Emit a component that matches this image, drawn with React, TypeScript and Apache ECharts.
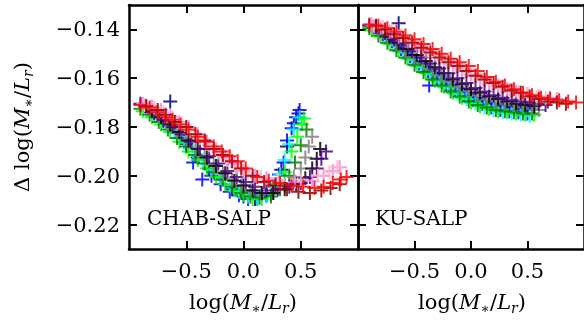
import React, { useEffect, useRef } from "react";
import * as echarts from "echarts";

type P = [number, number];

// ---- Left panel (CHAB-SALP) ----
const L_NAVY: P[] = [[-0.9,-0.1705],[-0.64,-0.1695],[-0.7,-0.176],[-0.6,-0.18],[-0.5,-0.187],[-0.4,-0.1925],[-0.3,-0.197],[-0.2,-0.2015],[-0.1,-0.2055],[0.0,-0.2085],[0.1,-0.2095],[0.2,-0.208],[0.28,-0.2035],[0.33,-0.1975],[0.38,-0.188],[0.44,-0.1785],[0.48,-0.1745]];
const L_BLUE: P[] = [[-0.86,-0.1715],[-0.78,-0.1745],[-0.7,-0.1775],[-0.6,-0.182],[-0.52,-0.186],[-0.44,-0.1945],[-0.36,-0.2015],[-0.28,-0.2],[-0.2,-0.2035],[-0.12,-0.2065],[-0.04,-0.208],[0.04,-0.2095],[0.12,-0.2095],[0.2,-0.208],[0.26,-0.204],[0.31,-0.1995],[0.35,-0.1945],[0.38,-0.1855],[0.42,-0.1805],[0.46,-0.176],[0.49,-0.173]];
const L_CYAN: P[] = [[-0.84,-0.173],[-0.76,-0.1755],[-0.68,-0.179],[-0.6,-0.1825],[-0.52,-0.1865],[-0.44,-0.19],[-0.36,-0.1935],[-0.28,-0.1975],[-0.2,-0.201],[-0.12,-0.204],[-0.04,-0.2065],[0.04,-0.2085],[0.12,-0.2095],[0.2,-0.2085],[0.27,-0.2045],[0.32,-0.1995],[0.36,-0.1935],[0.4,-0.187],[0.44,-0.181],[0.49,-0.176]];
const L_LIME: P[] = [[-0.88,-0.1735],[-0.8,-0.176],[-0.72,-0.179],[-0.64,-0.182],[-0.56,-0.186],[-0.48,-0.19],[-0.4,-0.1935],[-0.32,-0.197],[-0.24,-0.2005],[-0.16,-0.2035],[-0.08,-0.206],[0.0,-0.208],[0.08,-0.2095],[0.16,-0.2095],[0.24,-0.2075],[0.3,-0.2035],[0.36,-0.1985],[0.42,-0.19],[0.47,-0.184],[0.51,-0.179],[0.53,-0.1765]];
const L_GREEN: P[] = [[-0.9,-0.1725],[-0.82,-0.175],[-0.74,-0.178],[-0.66,-0.181],[-0.58,-0.1845],[-0.5,-0.188],[-0.42,-0.1915],[-0.34,-0.195],[-0.26,-0.1985],[-0.18,-0.2015],[-0.1,-0.2045],[-0.02,-0.207],[0.06,-0.2085],[0.14,-0.209],[0.24,-0.2085],[0.32,-0.2055],[0.4,-0.2],[0.45,-0.1945],[0.5,-0.1875],[0.55,-0.181]];
const L_GRAY: P[] = [[-0.82,-0.1725],[-0.74,-0.1755],[-0.66,-0.1785],[-0.58,-0.1815],[-0.5,-0.185],[-0.42,-0.1885],[-0.34,-0.192],[-0.26,-0.1955],[-0.18,-0.199],[-0.1,-0.2015],[-0.02,-0.204],[0.06,-0.206],[0.16,-0.2075],[0.26,-0.207],[0.36,-0.204],[0.44,-0.2005],[0.5,-0.197],[0.54,-0.1925],[0.57,-0.188],[0.6,-0.184]];
const L_BLACK: P[] = [[-0.8,-0.1735],[-0.72,-0.176],[-0.64,-0.179],[-0.56,-0.182],[-0.48,-0.1855],[-0.4,-0.189],[-0.32,-0.1925],[-0.24,-0.196],[-0.16,-0.199],[-0.08,-0.202],[0.0,-0.204],[0.08,-0.206],[0.16,-0.207],[0.26,-0.207],[0.36,-0.2055],[0.46,-0.2035],[0.54,-0.201],[0.6,-0.197],[0.64,-0.193],[0.67,-0.189]];
const L_INDIGO: P[] = [[-0.85,-0.1715],[-0.78,-0.174],[-0.7,-0.177],[-0.62,-0.18],[-0.54,-0.183],[-0.46,-0.186],[-0.38,-0.189],[-0.3,-0.192],[-0.22,-0.195],[-0.14,-0.198],[-0.06,-0.2005],[0.02,-0.2025],[0.1,-0.2045],[0.2,-0.206],[0.3,-0.2055],[0.4,-0.2045],[0.5,-0.203],[0.58,-0.2005],[0.64,-0.197],[0.68,-0.193],[0.72,-0.19]];
const L_VIOLET: P[] = [[-0.88,-0.1705],[-0.8,-0.1715],[-0.72,-0.173],[-0.64,-0.1755],[-0.56,-0.178],[-0.48,-0.18],[-0.4,-0.183],[-0.32,-0.186],[-0.24,-0.189],[-0.16,-0.192],[-0.08,-0.195],[0.0,-0.198],[0.1,-0.2],[0.2,-0.201],[0.3,-0.202],[0.45,-0.2025],[0.6,-0.202],[0.7,-0.2],[0.78,-0.198],[0.84,-0.1965]];
const L_PINK: P[] = [[-0.86,-0.171],[-0.78,-0.172],[-0.7,-0.174],[-0.62,-0.176],[-0.54,-0.1785],[-0.46,-0.1815],[-0.38,-0.1845],[-0.3,-0.1875],[-0.22,-0.1905],[-0.14,-0.1935],[-0.06,-0.1965],[0.04,-0.199],[0.15,-0.2005],[0.3,-0.2015],[0.5,-0.2015],[0.65,-0.2],[0.75,-0.1985],[0.82,-0.1965]];
const L_DARKRED: P[] = [[-0.85,-0.1715],[-0.75,-0.173],[-0.68,-0.175],[-0.6,-0.178],[-0.5,-0.18],[-0.42,-0.183],[-0.34,-0.1855],[-0.26,-0.189],[-0.18,-0.1915],[-0.1,-0.194],[-0.02,-0.197],[0.08,-0.2],[0.18,-0.2025],[0.28,-0.204],[0.38,-0.2055],[0.48,-0.2065],[0.58,-0.207],[0.68,-0.206],[0.76,-0.205],[0.84,-0.2035]];
const L_RED: P[] = [[-0.9,-0.171],[-0.82,-0.172],[-0.75,-0.174],[-0.68,-0.176],[-0.62,-0.177],[-0.55,-0.179],[-0.48,-0.181],[-0.4,-0.184],[-0.33,-0.186],[-0.26,-0.188],[-0.19,-0.19],[-0.12,-0.192],[-0.05,-0.194],[0.02,-0.197],[0.12,-0.2005],[0.22,-0.202],[0.32,-0.203],[0.42,-0.204],[0.52,-0.2045],[0.62,-0.205],[0.7,-0.2045],[0.78,-0.203],[0.85,-0.2015],[0.9,-0.2005]];

// ---- Right panel (KU-SALP) ----
const R_NAVY: P[] = [[-0.9,-0.1385],[-0.64,-0.1375],[-0.76,-0.1415],[-0.68,-0.1445],[-0.6,-0.1475],[-0.52,-0.1505],[-0.44,-0.1535],[-0.36,-0.1565],[-0.28,-0.159],[-0.2,-0.1615],[-0.12,-0.164],[-0.04,-0.166],[0.04,-0.168],[0.12,-0.1695],[0.2,-0.1705],[0.28,-0.1715],[0.36,-0.172],[0.44,-0.1725],[0.5,-0.173]];
const R_BLUE: P[] = [[-0.86,-0.139],[-0.78,-0.142],[-0.7,-0.145],[-0.62,-0.148],[-0.54,-0.151],[-0.46,-0.154],[-0.38,-0.157],[-0.37,-0.163],[-0.3,-0.16],[-0.22,-0.1625],[-0.14,-0.165],[-0.06,-0.167],[0.02,-0.169],[0.1,-0.1705],[0.18,-0.172],[0.26,-0.173],[0.34,-0.1735],[0.42,-0.174],[0.5,-0.1745]];
const R_CYAN: P[] = [[-0.84,-0.14],[-0.76,-0.143],[-0.68,-0.1465],[-0.6,-0.1495],[-0.52,-0.1525],[-0.44,-0.1555],[-0.36,-0.1585],[-0.28,-0.1615],[-0.2,-0.164],[-0.12,-0.1665],[-0.04,-0.1685],[0.04,-0.1705],[0.12,-0.172],[0.2,-0.173],[0.28,-0.174],[0.36,-0.1745],[0.44,-0.175],[0.52,-0.1755]];
const R_LIME: P[] = [[-0.88,-0.1405],[-0.8,-0.143],[-0.72,-0.146],[-0.64,-0.149],[-0.56,-0.152],[-0.48,-0.155],[-0.4,-0.158],[-0.32,-0.161],[-0.24,-0.1635],[-0.16,-0.166],[-0.08,-0.168],[0.0,-0.17],[0.08,-0.1715],[0.16,-0.1725],[0.24,-0.1735],[0.32,-0.174],[0.4,-0.1745],[0.48,-0.175],[0.56,-0.175]];
const R_GREEN: P[] = [[-0.9,-0.1395],[-0.82,-0.1425],[-0.74,-0.1455],[-0.66,-0.1485],[-0.58,-0.1515],[-0.5,-0.1545],[-0.42,-0.1575],[-0.34,-0.1605],[-0.26,-0.163],[-0.18,-0.1655],[-0.1,-0.1675],[-0.02,-0.1695],[0.06,-0.171],[0.14,-0.172],[0.22,-0.173],[0.3,-0.1735],[0.38,-0.174],[0.46,-0.1745],[0.54,-0.1745]];
const R_GRAY: P[] = [[-0.82,-0.141],[-0.74,-0.1435],[-0.66,-0.146],[-0.58,-0.149],[-0.5,-0.1515],[-0.42,-0.154],[-0.34,-0.1565],[-0.26,-0.159],[-0.18,-0.1615],[-0.1,-0.1635],[-0.02,-0.1655],[0.06,-0.167],[0.14,-0.1685],[0.22,-0.1695],[0.3,-0.1705],[0.38,-0.171],[0.46,-0.172],[0.54,-0.1725],[0.6,-0.173]];
const R_BLACK: P[] = [[-0.8,-0.1405],[-0.72,-0.143],[-0.64,-0.1455],[-0.56,-0.148],[-0.48,-0.1505],[-0.4,-0.153],[-0.32,-0.1555],[-0.24,-0.158],[-0.16,-0.1605],[-0.08,-0.1625],[0.0,-0.1645],[0.08,-0.166],[0.16,-0.1675],[0.24,-0.1685],[0.32,-0.1695],[0.4,-0.1705],[0.48,-0.171],[0.56,-0.1715]];
const R_INDIGO: P[] = [[-0.84,-0.139],[-0.76,-0.1415],[-0.68,-0.144],[-0.6,-0.1465],[-0.52,-0.149],[-0.44,-0.1515],[-0.36,-0.154],[-0.28,-0.156],[-0.2,-0.158],[-0.12,-0.16],[-0.04,-0.162],[0.04,-0.164],[0.12,-0.1655],[0.2,-0.167],[0.28,-0.168],[0.36,-0.169],[0.44,-0.1695],[0.52,-0.17],[0.6,-0.1705],[0.66,-0.171]];
const R_VIOLET: P[] = [[-0.88,-0.138],[-0.8,-0.1395],[-0.72,-0.141],[-0.64,-0.143],[-0.56,-0.145],[-0.48,-0.147],[-0.4,-0.149],[-0.32,-0.1505],[-0.24,-0.1525],[-0.16,-0.1545],[-0.08,-0.1565],[0.0,-0.1585],[0.08,-0.1605],[0.16,-0.162],[0.24,-0.163],[0.32,-0.1645],[0.4,-0.1655],[0.5,-0.1665],[0.6,-0.1675],[0.7,-0.168],[0.76,-0.1685]];
const R_PINK: P[] = [[-0.86,-0.1385],[-0.78,-0.139],[-0.7,-0.1405],[-0.62,-0.1425],[-0.54,-0.1445],[-0.46,-0.1465],[-0.38,-0.1485],[-0.3,-0.1505],[-0.22,-0.1525],[-0.14,-0.1545],[-0.06,-0.1565],[0.02,-0.1585],[0.1,-0.1605],[0.18,-0.162],[0.26,-0.1635],[0.34,-0.1645],[0.42,-0.1655],[0.5,-0.1665],[0.58,-0.1675],[0.66,-0.168]];
const R_DARKRED: P[] = [[-0.84,-0.1385],[-0.76,-0.14],[-0.68,-0.142],[-0.6,-0.1435],[-0.52,-0.1455],[-0.44,-0.1475],[-0.36,-0.1495],[-0.28,-0.1515],[-0.2,-0.1535],[-0.12,-0.155],[-0.04,-0.157],[0.04,-0.159],[0.12,-0.1605],[0.2,-0.162],[0.28,-0.1635],[0.36,-0.165],[0.44,-0.166],[0.52,-0.1675],[0.6,-0.1685],[0.68,-0.1695],[0.76,-0.17],[0.84,-0.1705]];
const R_RED: P[] = [[-0.9,-0.138],[-0.82,-0.1385],[-0.74,-0.1395],[-0.66,-0.141],[-0.58,-0.1425],[-0.5,-0.144],[-0.42,-0.146],[-0.34,-0.148],[-0.26,-0.15],[-0.18,-0.152],[-0.1,-0.1535],[-0.02,-0.155],[0.06,-0.157],[0.14,-0.1595],[0.22,-0.1615],[0.3,-0.163],[0.38,-0.1645],[0.46,-0.166],[0.54,-0.167],[0.62,-0.168],[0.7,-0.1685],[0.78,-0.169],[0.86,-0.1695],[0.93,-0.17]];

const COLORS = ["#000080", "#0000ff", "#00ffff", "#00ff00", "#008000", "#808080", "#000000", "#4b0082", "#ee82ee", "#ffb6c1", "#8b0000", "#ff0000"];
const LEFT_SETS = [L_NAVY, L_BLUE, L_CYAN, L_LIME, L_GREEN, L_GRAY, L_BLACK, L_INDIGO, L_VIOLET, L_PINK, L_DARKRED, L_RED];
const RIGHT_SETS = [R_NAVY, R_BLUE, R_CYAN, R_LIME, R_GREEN, R_GRAY, R_BLACK, R_INDIGO, R_VIOLET, R_PINK, R_DARKRED, R_RED];

const X_MIN = -1, X_MAX = 1, Y_MIN = -0.23, Y_MAX = -0.13;
const X_TICKS = [-0.5, 0, 0.5];
const Y_TICKS = [-0.22, -0.2, -0.18, -0.16, -0.14];
const PANEL_LABELS = ["CHAB-SALP", "KU-SALP"];

const FONT = "DejaVu Serif";
const fmt = (v: number, d: number) => (v < -1e-9 ? "\u2212" : "") + Math.abs(v).toFixed(d);

const CROSS = "path://M5,0 L5,10 M0,5 L10,5";

const richMath = {
  n: { fontFamily: FONT, fontSize: 21, color: "#000", lineHeight: 26 },
  i: { fontFamily: FONT, fontSize: 21, fontStyle: "italic", color: "#000", lineHeight: 26 },
  s: { fontFamily: FONT, fontSize: 14, color: "#000", lineHeight: 12, verticalAlign: "bottom" },
  si: { fontFamily: FONT, fontSize: 14, fontStyle: "italic", color: "#000", lineHeight: 12, verticalAlign: "bottom" },
};
const MATH = "{n|log(}{i|M}{s|\u2217}{n|/}{i|L}{si|r}{n|)}";

export default function App() {
  const ref = useRef<HTMLDivElement>(null);
  useEffect(() => {
    document.body.style.margin = "0";
    const chart = echarts.init(ref.current!, null, { renderer: "svg" });
    const grids = [
      { left: 129, top: 5, width: 229, height: 244 },
      { left: 358, top: 5, width: 229, height: 244 },
    ];
    const mkLine = () => ({ show: true, onZero: false, lineStyle: { color: "#000", width: 2.5 } });
    const mkTick = (vals: number[]) => ({ show: true, inside: true, length: 8, lineStyle: { color: "#000", width: 2 }, customValues: vals });
    const xAxes: any[] = [];
    const yAxes: any[] = [];
    for (let g = 0; g < 2; g++) {
      xAxes.push({
        type: "value", gridIndex: g, position: "bottom", min: X_MIN, max: X_MAX,
        axisLine: mkLine(), splitLine: { show: false }, axisTick: mkTick(X_TICKS),
        axisLabel: { customValues: X_TICKS, formatter: (v: number) => fmt(v, 1), fontFamily: FONT, fontSize: 21, color: "#000", margin: 11 },
      });
      xAxes.push({
        type: "value", gridIndex: g, position: "top", min: X_MIN, max: X_MAX,
        axisLine: mkLine(), splitLine: { show: false }, axisTick: mkTick(X_TICKS),
        axisLabel: { show: false, customValues: X_TICKS },
      });
      yAxes.push({
        type: "value", gridIndex: g, position: "left", min: Y_MIN, max: Y_MAX,
        axisLine: mkLine(), splitLine: { show: false }, axisTick: mkTick(Y_TICKS),
        axisLabel: g === 0
          ? { customValues: Y_TICKS, formatter: (v: number) => fmt(v, 2), fontFamily: FONT, fontSize: 21, color: "#000", margin: 9 }
          : { show: false, customValues: Y_TICKS },
      });
      yAxes.push({
        type: "value", gridIndex: g, position: "right", min: Y_MIN, max: Y_MAX,
        axisLine: mkLine(), splitLine: { show: false }, axisTick: mkTick(Y_TICKS),
        axisLabel: { show: false, customValues: Y_TICKS },
      });
    }
    const series: any[] = [];
    [LEFT_SETS, RIGHT_SETS].forEach((sets, g) => {
      sets.forEach((data, k) => {
        series.push({
          type: "scatter", xAxisIndex: g * 2, yAxisIndex: g * 2, data,
          symbol: CROSS, symbolSize: 14, silent: true,
          itemStyle: { color: "transparent", borderColor: COLORS[k], borderWidth: 2, opacity: 0.85 },
        });
      });
    });
    chart.setOption({
      animation: false,
      grid: grids,
      xAxis: xAxes,
      yAxis: yAxes,
      series,
      graphic: [
        { type: "text", x: 147, y: 218, style: { text: PANEL_LABELS[0], fontFamily: FONT, fontSize: 20, fill: "#000", verticalAlign: "middle", align: "left" } },
        { type: "text", x: 375, y: 218, style: { text: PANEL_LABELS[1], fontFamily: FONT, fontSize: 20, fill: "#000", verticalAlign: "middle", align: "left" } },
        { type: "text", x: 243, y: 302, style: { text: MATH, rich: richMath, align: "center", verticalAlign: "middle" } },
        { type: "text", x: 472, y: 302, style: { text: MATH, rich: richMath, align: "center", verticalAlign: "middle" } },
        { type: "text", x: 22, y: 127, rotation: Math.PI / 2, style: { text: "{n|\u0394 log(}{i|M}{s|\u2217}{n|/}{i|L}{si|r}{n|)}", rich: richMath, align: "center", verticalAlign: "middle" } },
      ],
    });
    return () => chart.dispose();
  }, []);
  return <div ref={ref} style={{ position: "fixed", left: 0, top: 0, width: 584, height: 324 }} />;
}
